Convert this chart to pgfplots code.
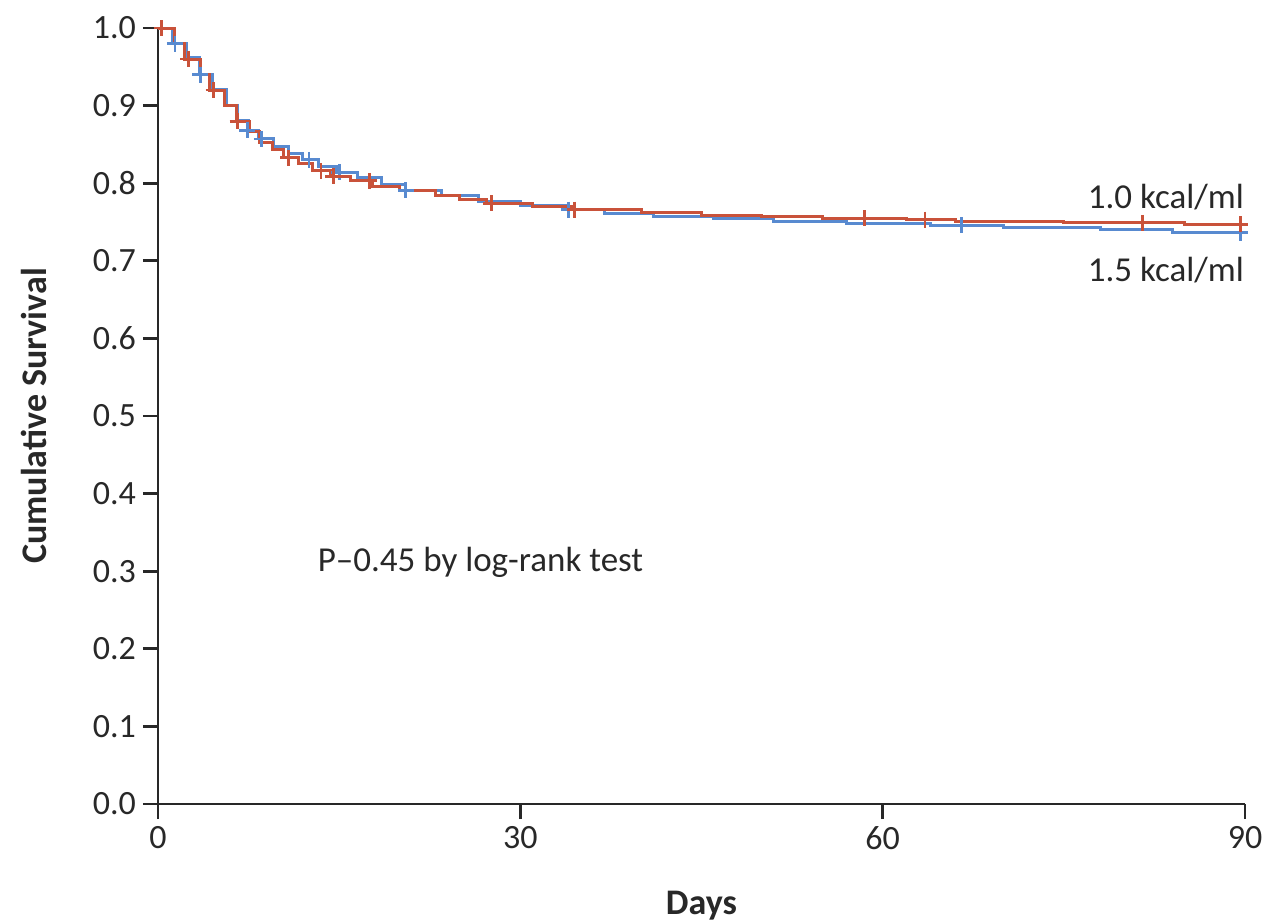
\documentclass[border=0pt]{standalone}
\usepackage{fontspec}
\setmainfont{Carlito}
\usepackage{pgfplots}
\pgfplotsset{compat=1.18}
\usepackage{pgfplotstable}
\definecolor{redc}{RGB}{201,82,58}
\definecolor{bluec}{RGB}{88,138,208}
\definecolor{axc}{RGB}{40,40,40}

\pgfplotstableread{
x y
0 1.000
1.4 0.980
2.2 0.960
3.5 0.940
4.3 0.920
5.5 0.900
6.5 0.880
7.6 0.866
8.4 0.853
9.5 0.843
10.4 0.833
11.6 0.826
12.8 0.816
14.3 0.809
15.9 0.803
17.8 0.796
20.0 0.791
23.0 0.784
25.0 0.779
27.2 0.774
31.0 0.770
34.5 0.766
40.0 0.762
45.0 0.759
50.0 0.757
55.0 0.755
62.0 0.753
66.0 0.751
75.0 0.749
85.0 0.747
90.0 0.747
}\redsteps

\pgfplotstableread{
x y
0.3 1.000
2.5 0.960
4.6 0.920
6.6 0.880
10.8 0.833
13.5 0.816
14.5 0.809
17.5 0.803
27.6 0.774
34.5 0.766
58.5 0.755
63.5 0.753
81.5 0.749
89.6 0.747
}\redmarks

\pgfplotstableread{
x y
0 1.000
1.2 0.980
2.4 0.962
3.4 0.940
4.5 0.921
5.7 0.900
6.6 0.881
7.5 0.868
8.3 0.857
9.6 0.847
10.8 0.838
12.0 0.830
13.3 0.822
14.8 0.814
16.5 0.807
18.5 0.798
20.5 0.791
23.5 0.784
26.5 0.777
30.0 0.771
34.0 0.766
37.0 0.761
41.0 0.757
46.0 0.754
51.0 0.751
57.0 0.748
64.0 0.746
70.0 0.743
78.0 0.740
84.0 0.737
90.0 0.736
}\bluesteps

\pgfplotstableread{
x y
1.4 0.980
3.5 0.940
7.4 0.868
8.6 0.857
12.5 0.830
15.0 0.814
20.5 0.791
34.0 0.766
66.5 0.746
89.6 0.736
}\bluemarks

\begin{document}
\begin{tikzpicture}
\path[use as bounding box] (-79pt,-59.5pt) rectangle (555pt,402pt);
\begin{axis}[
  at={(0,0)}, anchor=south west,
  scale only axis,
  width=543.5pt, height=388pt,
  xmin=0, xmax=90, ymin=0, ymax=1,
  axis lines=left,
  axis line style={-, axc, line width=1.4pt},
  tick style={axc, line width=1.4pt},
  tick align=outside,
  major tick length=7.5pt,
  xtick={0,30,60,90},
  ytick={0,0.1,...,1.0},
  /pgf/number format/assume math mode=true,
  ticklabel style={font=\fontsize{17}{20}\selectfont, text=axc},
  yticklabel style={/pgf/number format/fixed, /pgf/number format/precision=1, /pgf/number format/fixed zerofill},
  xlabel={\textbf{Days}},
  ylabel={\textbf{Cumulative Survival}},
  label style={font=\fontsize{18}{21}\selectfont, text=axc},
  xlabel style={yshift=-14pt},
  ylabel style={yshift=16pt},
  clip=false,
]
\addplot[const plot, bluec, line width=1.5pt] table {\bluesteps};
\addplot[only marks, mark=+, mark size=4pt, bluec, mark options={line width=1.4pt}] table {\bluemarks};
\addplot[const plot, redc, line width=1.5pt] table {\redsteps};
\addplot[only marks, mark=+, mark size=4pt, redc, mark options={line width=1.4pt}] table {\redmarks};
\node[anchor=east, font=\fontsize{17.5}{20}\selectfont, text=axc] at (axis cs:90.5,0.782) {1.0 kcal/ml};
\node[anchor=east, font=\fontsize{17.5}{20}\selectfont, text=axc] at (axis cs:90.5,0.688) {1.5 kcal/ml};
\node[anchor=west, font=\fontsize{17.5}{20}\selectfont, text=axc, inner xsep=0pt] at (axis cs:13.2,0.311) {P–0.45 by log-rank test};
\end{axis}
\end{tikzpicture}
\end{document}
